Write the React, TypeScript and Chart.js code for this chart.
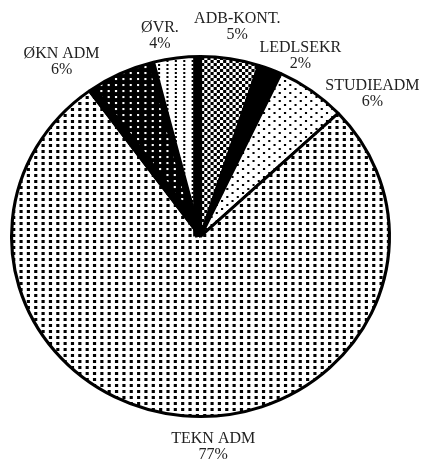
import React, { useEffect, useRef } from 'react';
import { Chart, registerables } from 'chart.js';

Chart.register(...registerables);

// ---- data ----
const categories = ['ADB-KONT.', 'LEDLSEKR', 'STUDIEADM', 'TEKN ADM', 'ØKN ADM', 'ØVR.'];
const shares = [5, 2, 6, 77, 6, 4];
const percentLabels = ['5%', '2%', '6%', '77%', '6%', '4%'];

// ---- label layout (angular shift in degrees, radial factor) ----
const labelShift = [0.5, 6.2, 13, -8.7, -12, -3.7];
const labelRadius = [1.17, 1.124, 1.196, 1.162, 1.206, 1.125];

const SX = 1.0496; // pie is drawn slightly wider than tall

function makePattern(ctx: CanvasRenderingContext2D, w: number, h: number, bg: string, fg: string, rects: number[][]) {
  const c = document.createElement('canvas');
  c.width = w;
  c.height = h;
  const g = c.getContext('2d')!;
  g.fillStyle = bg;
  g.fillRect(0, 0, w, h);
  g.fillStyle = fg;
  rects.forEach(([x, y, rw, rh]) => g.fillRect(x, y, rw, rh));
  return ctx.createPattern(c, 'repeat');
}

const ellipsePlugin = {
  id: 'ellipse',
  beforeDatasetsDraw(chart: any) {
    const arc = chart.getDatasetMeta(0).data[0];
    const ctx = chart.ctx;
    ctx.save();
    ctx.translate(arc.x, arc.y);
    ctx.scale(SX, 1);
    ctx.translate(-arc.x, -arc.y);
  },
  afterDatasetsDraw(chart: any) {
    const ctx = chart.ctx;
    const arcs = chart.getDatasetMeta(0).data;
    const drawBand = (a: number, side: number, w: number) => {
      const arc = arcs[0];
      const R = arc.outerRadius;
      const px = side > 0 ? -Math.sin(a) : Math.sin(a);
      const py = side > 0 ? Math.cos(a) : -Math.cos(a);
      const ox = (px * w) / 2, oy = (py * w) / 2;
      ctx.beginPath();
      ctx.moveTo(arc.x + ox, arc.y + oy);
      ctx.lineTo(arc.x + Math.cos(a) * R + ox, arc.y + Math.sin(a) * R + oy);
      ctx.lineWidth = w;
      ctx.strokeStyle = '#000';
      ctx.lineCap = 'butt';
      ctx.stroke();
    };
    // dark edges of the dark slices
    drawBand(arcs[5].endAngle, -1, 7);
    drawBand(arcs[4].startAngle, 1, 7);
    drawBand(arcs[4].endAngle, -1, 5);
    ctx.restore();
  },
};

const labelPlugin = {
  id: 'outerLabels',
  afterDraw(chart: any) {
    const ctx = chart.ctx;
    const arcs = chart.getDatasetMeta(0).data;
    ctx.save();
    ctx.font = '16px "Liberation Serif", serif';
    ctx.fillStyle = '#222';
    ctx.textAlign = 'center';
    ctx.textBaseline = 'middle';
    arcs.forEach((arc: any, i: number) => {
      const R = arc.outerRadius + 1.5;
      const a = (arc.startAngle + arc.endAngle) / 2 + (labelShift[i] * Math.PI) / 180;
      const x = arc.x + Math.cos(a) * R * SX * labelRadius[i];
      const y = arc.y + Math.sin(a) * R * labelRadius[i];
      ctx.fillText(categories[i], x, y - 8);
      ctx.fillText(percentLabels[i], x, y + 8);
    });
    ctx.restore();
  },
};

export default function App() {
  const ref = useRef<HTMLCanvasElement>(null);

  useEffect(() => {
    const canvas = ref.current!;
    const ctx = canvas.getContext('2d')!;
    const patterns = [
      // ADB-KONT. : checkerboard
      makePattern(ctx, 6, 6, '#fff', '#000', [[0, 0, 3, 3], [3, 3, 3, 3]]),
      // LEDLSEKR : solid black
      '#000',
      // STUDIEADM : sparse dots
      makePattern(ctx, 10, 8, '#fff', '#000', [[0, 0, 2, 2], [5, 4, 2, 2]]),
      // TEKN ADM : fine dots in columns
      makePattern(ctx, 7, 6, '#fff', '#000', [[0, 0, 3, 3]]),
      // ØKN ADM : black with white holes
      makePattern(ctx, 7, 6, '#000', '#fff', [[0, 0, 2, 2]]),
      // ØVR. : dotted columns
      makePattern(ctx, 8, 4, '#fff', '#000', [[0, 0, 2, 2]]),
    ];
    const chart = new Chart(canvas, {
      type: 'pie',
      data: {
        labels: categories,
        datasets: [
          {
            data: shares,
            backgroundColor: patterns as any,
            borderColor: '#000',
            borderWidth: 3,
          },
        ],
      },
      options: {
        animation: false,
        responsive: true,
        maintainAspectRatio: false,
        layout: { padding: { left: 10, right: 36, top: 55, bottom: 45 } },
        plugins: {
          legend: { display: false },
          tooltip: { enabled: false },
        },
      },
      plugins: [ellipsePlugin, labelPlugin],
    });
    return () => chart.destroy();
  }, []);

  return (
    <div style={{ position: 'absolute', left: 0, top: 0, width: 427, height: 463, background: '#fff' }}>
      <canvas ref={ref} />
    </div>
  );
}
